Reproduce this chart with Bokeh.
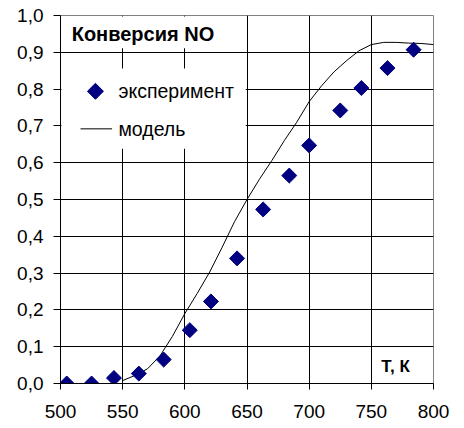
from bokeh.plotting import figure
from bokeh.models import (FixedTicker, CustomJSTickFormatter, Range1d, Label,
                          BoxAnnotation)
from bokeh.embed import file_html
from bokeh.resources import INLINE
import math

# ---- data ----
exp_T = [505, 525, 543, 563, 583, 604, 621, 642, 663, 684, 700, 725, 742, 763, 784]
exp_conv = [0.0, 0.0, 0.015, 0.027, 0.065, 0.145, 0.223, 0.34, 0.473, 0.565,
            0.647, 0.742, 0.803, 0.857, 0.907]

model_T = [550, 560, 570, 580, 590, 600, 610, 620, 630, 640, 650, 660, 670,
           680, 690, 700, 710, 720, 730, 740, 750, 760, 770, 780, 790, 800]
model_conv = [0.008, 0.022, 0.040, 0.075, 0.128, 0.190, 0.245, 0.303, 0.370,
              0.440, 0.500, 0.555, 0.606, 0.660, 0.710, 0.766, 0.809, 0.847,
              0.877, 0.904, 0.921, 0.927, 0.927, 0.925, 0.924, 0.921]

x_ticks = [500, 550, 600, 650, 700, 750, 800]
y_ticks = [0.0, 0.1, 0.2, 0.3, 0.4, 0.5, 0.6, 0.7, 0.8, 0.9, 1.0]

title_text = "Конверсия NO"
x_label_text = "Т, К"
legend_exp = "эксперимент"
legend_model = "модель"

FONT = "Liberation Sans"
MARKER_COLOR = "#000080"

p = figure(width=464, height=428, output_backend="svg", toolbar_location=None,
           x_range=Range1d(500, 800), y_range=Range1d(0, 1),
           min_border_left=60, min_border_right=31, min_border_top=15,
           min_border_bottom=45)
p.background_fill_color = "white"
p.border_fill_color = "white"
p.outline_line_color = "#808080"
p.outline_line_width = 1

# axes
for ax in (p.xaxis[0], p.yaxis[0]):
    ax.axis_line_color = "black"
    ax.axis_line_width = 1
    ax.major_tick_line_color = "black"
    ax.major_tick_in = 0
    ax.minor_tick_out = 0
    ax.minor_tick_in = 0
    ax.major_label_text_font = FONT
    ax.major_label_text_font_size = "19px"
    ax.major_label_text_color = "black"

p.xaxis.ticker = FixedTicker(ticks=x_ticks, minor_ticks=[])
p.yaxis.ticker = FixedTicker(ticks=y_ticks, minor_ticks=[])
p.xaxis.major_tick_out = 6
p.yaxis.major_tick_out = 7
p.xaxis.major_label_standoff = 15
p.yaxis.major_label_standoff = 10
p.yaxis.formatter = CustomJSTickFormatter(code="return tick.toFixed(1).replace('.', ',');")

# grid (inner lines only; frame edges are the outline)
p.xgrid.ticker = FixedTicker(ticks=x_ticks[1:-1], minor_ticks=[])
p.ygrid.ticker = FixedTicker(ticks=y_ticks[1:-1], minor_ticks=[])
p.xgrid.grid_line_color = "black"
p.ygrid.grid_line_color = "black"
p.xgrid.grid_line_width = 1
p.ygrid.grid_line_width = 1

# glyphs
ln = p.line(model_T, model_conv, line_color="black", line_width=1)
sc = p.scatter(exp_T, exp_conv, marker="square", size=10.6, angle=math.pi / 4,
               fill_color=MARKER_COLOR, line_color=MARKER_COLOR)

# white covers behind title and legend
p.add_layout(BoxAnnotation(left=500.8, right=649, bottom=0.911, top=0.997,
                           fill_color="white", fill_alpha=1, line_alpha=0))
p.add_layout(BoxAnnotation(left=500.8, right=649, bottom=0.638, top=0.856,
                           fill_color="white", fill_alpha=1, line_alpha=0))

# legend (drawn by hand so the key shows a diamond like the data markers)
p.scatter([528.1], [0.794], marker="square", size=11.3, angle=math.pi / 4,
          fill_color=MARKER_COLOR, line_color=MARKER_COLOR, level="overlay")
p.segment(x0=[516.1], y0=[0.692], x1=[541.5], y1=[0.692], line_color="black",
          line_width=1, level="overlay")
p.add_layout(Label(x=546.6, y=0.794, text=legend_exp, text_font=FONT,
                   text_font_size="19.5px", text_baseline="middle",
                   text_color="black"))
p.add_layout(Label(x=546.6, y=0.692, text=legend_model, text_font=FONT,
                   text_font_size="19.5px", text_baseline="middle",
                   text_color="black"))

p.add_layout(Label(x=509, y=0.951, text=title_text, text_font=FONT,
                   text_font_style="bold", text_font_size="20px",
                   text_baseline="middle", text_color="black"))
p.add_layout(Label(x=758, y=0.045, text=x_label_text, text_font=FONT,
                   text_font_style="bold", text_font_size="17px",
                   text_baseline="middle", text_color="black"))

open("out.html", "w").write(file_html(p, INLINE))
